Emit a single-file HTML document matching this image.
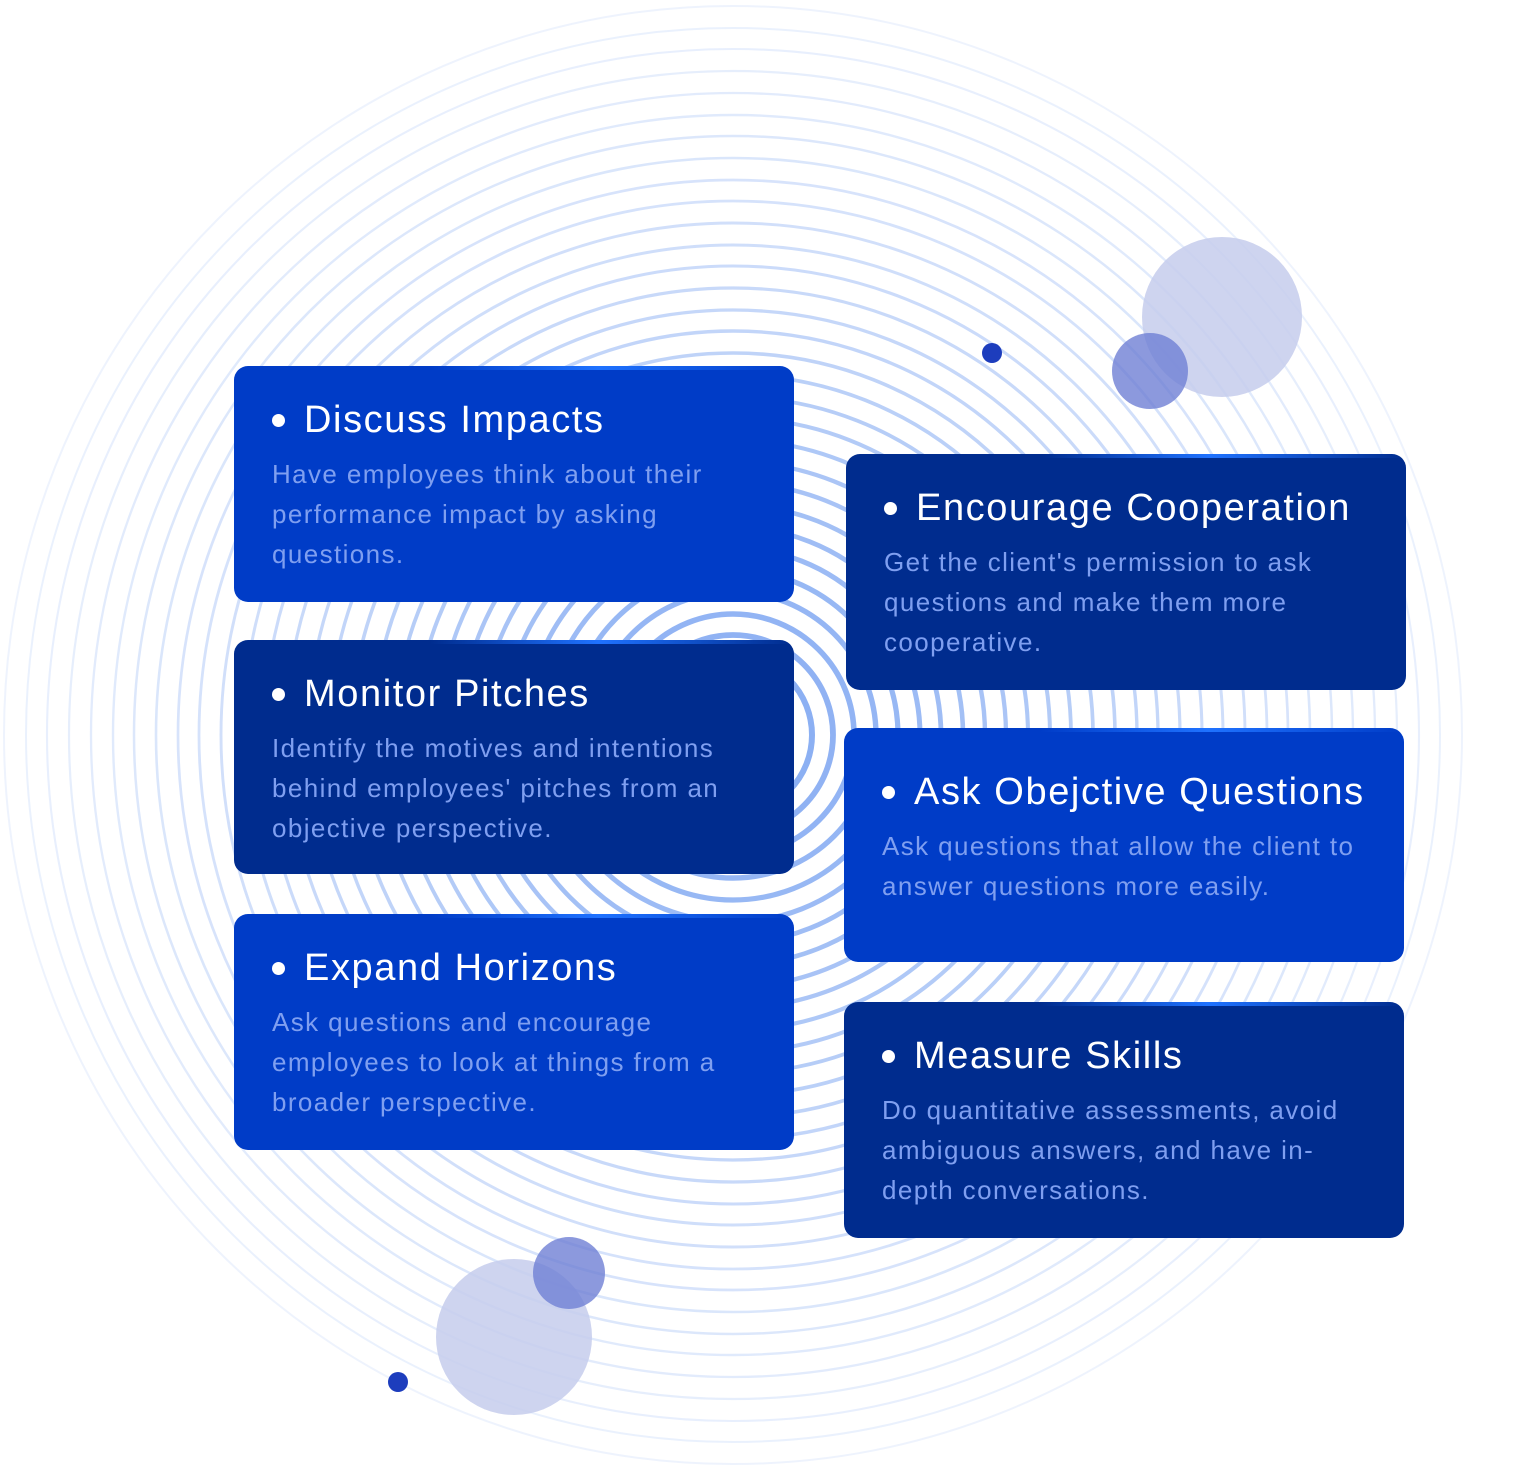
<!DOCTYPE html>
<html><head><meta charset="utf-8"><style>
html,body{margin:0;padding:0;background:#fff;width:1536px;height:1480px;overflow:hidden;position:relative;font-family:"Liberation Sans",sans-serif}
svg.bg{position:absolute;left:0;top:0}
.card{position:absolute;width:560px;height:236px;border-radius:14px;box-sizing:border-box;overflow:hidden}
.card.b{background:#003cc7}.card.d{background:#002c8e}
.card:before{content:"";position:absolute;left:0;right:0;top:0;height:4px;background:linear-gradient(90deg,rgba(30,110,255,0) 0%,rgba(30,110,255,0) 35%,#1f72ff 65%,rgba(30,110,255,0) 100%)}
.t{position:absolute;left:70px;top:30px;color:#fff;font-size:38px;letter-spacing:1.6px;line-height:48px;white-space:nowrap}
.t:before{content:"";position:absolute;left:-32px;top:18px;width:13px;height:13px;border-radius:50%;background:#fff}
.p{position:absolute;left:38px;top:88px;color:#7f9ff0;font-size:26px;letter-spacing:1.4px;line-height:40px;white-space:nowrap}
</style></head><body>
<svg class="bg" width="1536" height="1480" viewBox="0 0 1536 1480">
<g fill="none" stroke="#8cb0f3">
<circle cx="733" cy="735" r="729" stroke-width="2" stroke-opacity="0.15"/>
<circle cx="733" cy="735" r="707" stroke-width="2" stroke-opacity="0.18"/>
<circle cx="733" cy="735" r="686" stroke-width="2.1" stroke-opacity="0.2"/>
<circle cx="733" cy="735" r="664" stroke-width="2.2" stroke-opacity="0.22"/>
<circle cx="733" cy="735" r="642" stroke-width="2.3" stroke-opacity="0.25"/>
<circle cx="733" cy="735" r="620" stroke-width="2.4" stroke-opacity="0.27"/>
<circle cx="733" cy="735" r="599" stroke-width="2.5" stroke-opacity="0.3"/>
<circle cx="733" cy="735" r="577" stroke-width="2.6" stroke-opacity="0.32"/>
<circle cx="733" cy="735" r="555" stroke-width="2.7" stroke-opacity="0.35"/>
<circle cx="733" cy="735" r="534" stroke-width="2.8" stroke-opacity="0.37"/>
<circle cx="733" cy="735" r="512" stroke-width="2.9" stroke-opacity="0.4"/>
<circle cx="733" cy="735" r="490" stroke-width="3" stroke-opacity="0.42"/>
<circle cx="733" cy="735" r="469" stroke-width="3.1" stroke-opacity="0.45"/>
<circle cx="733" cy="735" r="447" stroke-width="3.2" stroke-opacity="0.48"/>
<circle cx="733" cy="735" r="425" stroke-width="3.3" stroke-opacity="0.5"/>
<circle cx="733" cy="735" r="404" stroke-width="3.4" stroke-opacity="0.53"/>
<circle cx="733" cy="735" r="382" stroke-width="3.6" stroke-opacity="0.56"/>
<circle cx="733" cy="735" r="360" stroke-width="3.7" stroke-opacity="0.6"/>
<circle cx="733" cy="735" r="338" stroke-width="3.8" stroke-opacity="0.63"/>
<circle cx="733" cy="735" r="317" stroke-width="4" stroke-opacity="0.66"/>
<circle cx="733" cy="735" r="295" stroke-width="4.1" stroke-opacity="0.7"/>
<circle cx="733" cy="735" r="273" stroke-width="4.3" stroke-opacity="0.73"/>
<circle cx="733" cy="735" r="252" stroke-width="4.4" stroke-opacity="0.76"/>
<circle cx="733" cy="735" r="230" stroke-width="4.6" stroke-opacity="0.8"/>
<circle cx="733" cy="735" r="208" stroke-width="4.8" stroke-opacity="0.83"/>
<circle cx="733" cy="735" r="187" stroke-width="5" stroke-opacity="0.86"/>
<circle cx="733" cy="735" r="165" stroke-width="5.2" stroke-opacity="0.9"/>
<circle cx="733" cy="735" r="143" stroke-width="5.4" stroke-opacity="0.92"/>
<circle cx="733" cy="735" r="121" stroke-width="5.6" stroke-opacity="0.95"/>
<circle cx="733" cy="735" r="100" stroke-width="5.8" stroke-opacity="0.97"/>
<circle cx="733" cy="735" r="79" stroke-width="6" stroke-opacity="1"/>
</g>
<circle cx="1222" cy="317" r="80" fill="#c6cdec" fill-opacity="0.85"/>
<circle cx="1150" cy="371" r="38" fill="#6f80d4" fill-opacity="0.8"/>
<circle cx="992" cy="353" r="10" fill="#1d3dbd"/>
<circle cx="514" cy="1337" r="78" fill="#c6cdec" fill-opacity="0.85"/>
<circle cx="569" cy="1273" r="36" fill="#6f80d4" fill-opacity="0.8"/>
<circle cx="398" cy="1382" r="10" fill="#1d3dbd"/>
</svg>

<div class="card b" style="left:234px;top:366px"><div class="t">Discuss Impacts</div><div class="p">Have employees think about their<br>performance impact by asking<br>questions.</div></div>
<div class="card d" style="left:234px;top:640px;height:234px"><div class="t">Monitor Pitches</div><div class="p">Identify the motives and intentions<br>behind employees' pitches from an<br>objective perspective.</div></div>
<div class="card b" style="left:234px;top:914px"><div class="t">Expand Horizons</div><div class="p">Ask questions and encourage<br>employees to look at things from a<br>broader perspective.</div></div>
<div class="card d" style="left:846px;top:454px"><div class="t">Encourage Cooperation</div><div class="p">Get the client's permission to ask<br>questions and make them more<br>cooperative.</div></div>
<div class="card b" style="left:844px;top:728px;height:234px"><div class="t" style="top:40px">Ask Obejctive Questions</div><div class="p" style="top:98px">Ask questions that allow the client to<br>answer questions more easily.</div></div>
<div class="card d" style="left:844px;top:1002px"><div class="t">Measure Skills</div><div class="p">Do quantitative assessments, avoid<br>ambiguous answers, and have in-<br>depth conversations.</div></div>
</body></html>
